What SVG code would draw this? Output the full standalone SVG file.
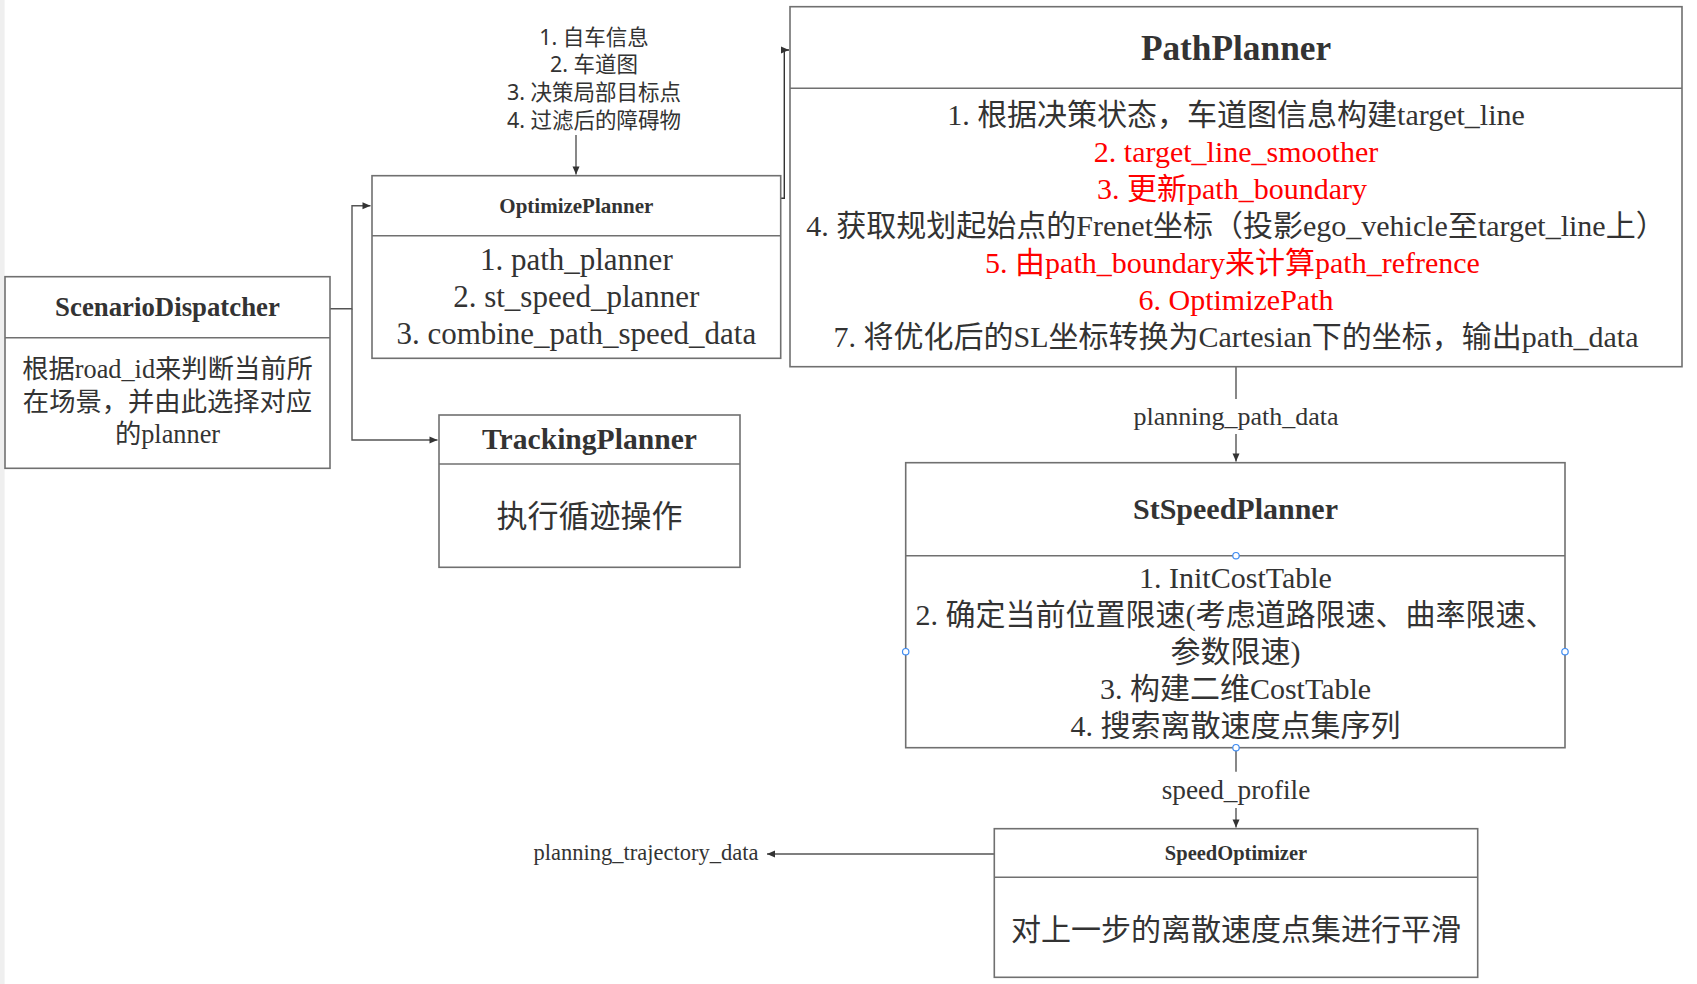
<svg xmlns="http://www.w3.org/2000/svg" width="1697" height="984" viewBox="0 0 1697 984">
<defs>
<style>
.box{fill:#ffffff;stroke:#707070;stroke-width:1.6}
.sep{stroke:#707070;stroke-width:1.6}
.t{font-family:"Liberation Serif","Noto Sans CJK SC",serif;fill:#333333;text-anchor:middle}
.b{font-weight:bold}
.red{fill:#ff0000}
.ann{font-family:"Noto Sans","Noto Sans CJK SC",sans-serif;fill:#333333;text-anchor:middle;font-size:21.5px}
.con{fill:none;stroke:#555555;stroke-width:1.4}
.h{fill:#ffffff;stroke:#3d8bf2;stroke-width:1.2}
</style>
<marker id="arr" markerUnits="userSpaceOnUse" markerWidth="10" markerHeight="10" viewBox="0 0 10 10" refX="9" refY="5" orient="auto">
<path d="M1,1.5 L9,5 L1,8.5 Z" fill="#333333"/>
</marker>
</defs>
<rect x="0" y="0" width="1697" height="984" fill="#ffffff"/>
<rect x="0" y="0" width="4.6" height="984" fill="#efefef"/>

<g id="connectors">
<path class="con" d="M330,308.7 H352 V205.7 H370.5" marker-end="url(#arr)"/>
<path class="con" d="M352,308.7 V440 H437.5" marker-end="url(#arr)"/>
<path class="con" d="M780.7,198.3 H784.3 V50 H789" marker-end="url(#arr)" style="stroke:#333333"/>
<path class="con" d="M576,135 V174.5" marker-end="url(#arr)"/>
<path class="con" d="M1236,367 V399"/>
<path class="con" d="M1236,434 V461.5" marker-end="url(#arr)"/>
<path class="con" d="M1236,748 V771.7"/>
<path class="con" d="M1236,808 V827.5" marker-end="url(#arr)"/>
<path class="con" d="M994,854 H767" marker-end="url(#arr)"/>
<text class="t" x="1236" y="425" font-size="26">planning_path_data</text>
<text class="t" x="1236" y="798.5" font-size="27.3">speed_profile</text>
<text class="t" x="646" y="860" font-size="22.5">planning_trajectory_data</text>
</g>

<g id="annotation">
<text class="ann" x="594" y="44.5">1. 自车信息</text>
<text class="ann" x="594" y="71.5">2. 车道图</text>
<text class="ann" x="594" y="99.5">3. 决策局部目标点</text>
<text class="ann" x="594" y="127.5">4. 过滤后的障碍物</text>
</g>

<g id="ScenarioDispatcher">
<rect class="box" x="5" y="276.7" width="325" height="191.6"/>
<line class="sep" x1="5" y1="337.7" x2="330" y2="337.7"/>
<text class="t b" x="167.5" y="316" font-size="26.8">ScenarioDispatcher</text>
<text class="t" x="167.5" y="378" font-size="26.3">根据road_id来判断当前所</text>
<text class="t" x="167.5" y="410.5" font-size="26.3">在场景，并由此选择对应</text>
<text class="t" x="167.5" y="443" font-size="26.3">的planner</text>
</g>

<g id="OptimizePlanner">
<rect class="box" x="372" y="175.7" width="408.7" height="182.6"/>
<line class="sep" x1="372" y1="235.7" x2="780.7" y2="235.7"/>
<text class="t b" x="576.3" y="212.5" font-size="21">OptimizePlanner</text>
<text class="t" x="576.3" y="270" font-size="31">1. path_planner</text>
<text class="t" x="576.3" y="307" font-size="31">2. st_speed_planner</text>
<text class="t" x="576.3" y="344" font-size="31">3. combine_path_speed_data</text>
</g>

<g id="TrackingPlanner">
<rect class="box" x="439" y="415" width="301" height="152.3"/>
<line class="sep" x1="439" y1="464" x2="740" y2="464"/>
<text class="t b" x="589.5" y="449" font-size="29.6">TrackingPlanner</text>
<text class="t" x="589.5" y="527" font-size="31">执行循迹操作</text>
</g>

<g id="PathPlanner">
<rect class="box" x="790" y="6.7" width="892" height="360"/>
<line class="sep" x1="790" y1="88.3" x2="1682" y2="88.3"/>
<text class="t b" x="1236" y="60" font-size="35.3">PathPlanner</text>
<text class="t" x="1236" y="125" font-size="30">1. 根据决策状态，车道图信息构建target_line</text>
<text class="t red" x="1236" y="162" font-size="30">2. target_line_smoother</text>
<text class="t red" x="1232" y="198.5" font-size="30">3. 更新path_boundary</text>
<text class="t" x="1236" y="235.5" font-size="30">4. 获取规划起始点的Frenet坐标（投影ego_vehicle至target_line上）</text>
<text class="t red" x="1232.5" y="272.5" font-size="30">5. 由path_boundary来计算path_refrence</text>
<text class="t red" x="1236" y="309.5" font-size="30">6. OptimizePath</text>
<text class="t" x="1236" y="346.5" font-size="30">7. 将优化后的SL坐标转换为Cartesian下的坐标，输出path_data</text>
</g>

<g id="StSpeedPlanner">
<rect class="box" x="905.7" y="462.7" width="659.3" height="285"/>
<line class="sep" x1="905.7" y1="555.7" x2="1565" y2="555.7"/>
<text class="t b" x="1235.5" y="519" font-size="30">StSpeedPlanner</text>
<text class="t" x="1235.5" y="587.5" font-size="30">1. InitCostTable</text>
<text class="t" x="1235.5" y="624.5" font-size="30">2. 确定当前位置限速(考虑道路限速、曲率限速、</text>
<text class="t" x="1235.5" y="661.5" font-size="30">参数限速)</text>
<text class="t" x="1235.5" y="698.5" font-size="30">3. 构建二维CostTable</text>
<text class="t" x="1235.5" y="735.5" font-size="30">4. 搜索离散速度点集序列</text>
<circle class="h" cx="1236" cy="555.7" r="3.2"/>
<circle class="h" cx="905.7" cy="651.7" r="3.2"/>
<circle class="h" cx="1565" cy="651.7" r="3.2"/>
<circle class="h" cx="1236" cy="747.7" r="3.2"/>
</g>

<g id="SpeedOptimizer">
<rect class="box" x="994.3" y="828.7" width="483.4" height="148.6"/>
<line class="sep" x1="994.3" y1="877.3" x2="1477.7" y2="877.3"/>
<text class="t b" x="1236" y="860" font-size="20.5">SpeedOptimizer</text>
<text class="t" x="1236" y="939.5" font-size="30">对上一步的离散速度点集进行平滑</text>
</g>
</svg>
